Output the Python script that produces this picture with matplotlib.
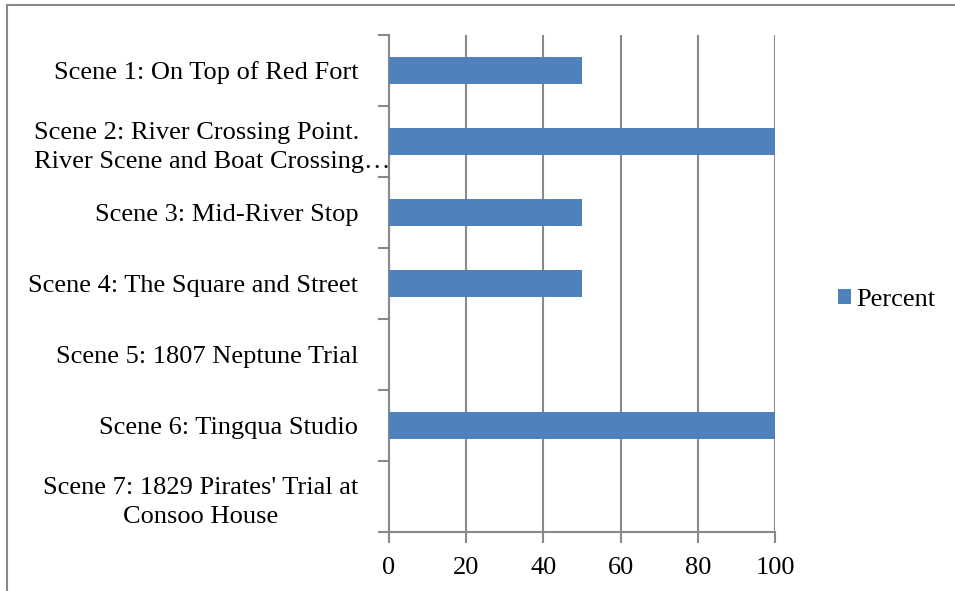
import matplotlib
matplotlib.use('Agg')
import matplotlib.pyplot as plt
import matplotlib.transforms as mtransforms
from matplotlib.lines import Line2D

scenes = ["Scene 1: On Top of Red Fort",
          "Scene 2: River Crossing Point.\nRiver Scene and Boat Crossing\u2026",
          "Scene 3: Mid-River Stop",
          "Scene 4: The Square and Street",
          "Scene 5: 1807 Neptune Trial",
          "Scene 6: Tingqua Studio",
          "Scene 7: 1829 Pirates' Trial at\nConsoo House"]
percent = [50, 100, 50, 50, 0, 100, 0]
xticks = [0, 20, 40, 60, 80, 100]

plt.rcParams['font.family'] = ['Liberation Serif', 'DejaVu Serif']
grey = '#898989'
fs = 19

fig = plt.figure(figsize=(9.55, 5.91), dpi=100)
ax = fig.add_axes([0.4073, 0.0998, 0.4042, 0.8410])

pos = list(range(len(scenes)))
ax.barh(pos, percent, height=0.38, color='#4F81BD', label='Percent', zorder=3)
ax.set_ylim(len(scenes) - 0.5, -0.5)
ax.set_xlim(0, 100)
ax.set_xticks(xticks)
ax.set_xticklabels([str(v) for v in xticks], fontsize=fs)
ax.set_yticks([p - 0.5 for p in range(len(scenes) + 1)])
ax.set_yticklabels([])
ax.set_yticks(pos, minor=True)
labels = ax.set_yticklabels(scenes, minor=True, fontsize=fs, multialignment='center',
                            linespacing=1.4)
ax.tick_params(axis='y', which='minor', length=0, pad=22)
ax.tick_params(axis='y', which='major', length=8, color=grey, width=1.5)
ax.tick_params(axis='x', length=8, color=grey, width=1.5, pad=10)

# the long scene 2 label spills over the axis like in the original
labels[1].set_multialignment('left')
labels[1].set_transform(labels[1].get_transform() +
                        mtransforms.ScaledTranslation(32/100, 0, fig.dpi_scale_trans))

ax.grid(axis='x', color=grey, linewidth=1.5, zorder=0)
for s in ['top', 'right']:
    ax.spines[s].set_visible(False)
for s in ['left', 'bottom']:
    ax.spines[s].set_color(grey)
    ax.spines[s].set_linewidth(1.5)

ax.legend(loc='center left', bbox_to_anchor=(0.877, 0.492), bbox_transform=fig.transFigure,
          frameon=False, fontsize=fs, handlelength=0.5, handleheight=0.5, handletextpad=0.2,
          borderpad=0, borderaxespad=0)

# outer chart frame
fig.add_artist(Line2D([7/955, 7/955], [0, 1 - 5/591], transform=fig.transFigure, color=grey, lw=1.5))
fig.add_artist(Line2D([7/955, 1], [1 - 5/591, 1 - 5/591], transform=fig.transFigure, color=grey, lw=1.5))

fig.savefig('out.png', dpi=100)
